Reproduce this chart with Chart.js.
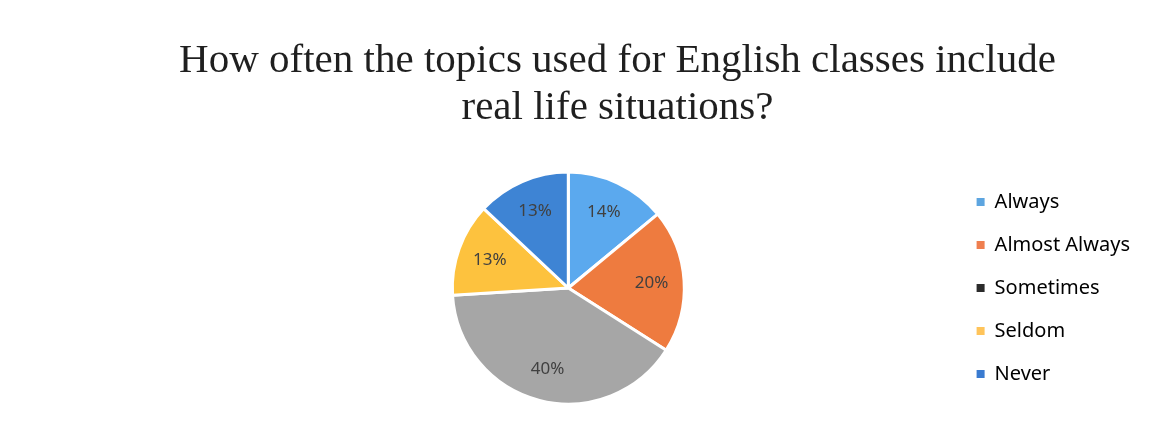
<!DOCTYPE html>
<html lang="en">
<head>
  <meta charset="UTF-8" />
  <title>Real life situations</title>
  <script src="https://cdn.jsdelivr.net/npm/chart.js"></script>
  <style>
    body {
      margin: 0;
      background: #fff;
    }

    .wrap {
      position: relative;
      width: 1149px;
      height: 448px;
    }

    .title {
      position: absolute;
      top: 35px;
      left: 86px;
      width: 1063px;
      text-align: center;
      font-family: 'Liberation Serif', 'Times New Roman', serif;
      font-size: 41px;
      line-height: 47px;
      color: #1f1f1f;
    }

    canvas {
      position: absolute;
      top: 0;
      left: 0;
    }
  </style>
</head>
<body>
  <div class="wrap">
    <canvas id="pie" width="1149" height="448"></canvas>
    <div class="title">How often the topics used for English classes include<br/>real life situations?</div>
  </div>

  <script>
    const answers = ['Always', 'Almost Always', 'Sometimes', 'Seldom', 'Never'];
    const percents = [14, 20, 40, 13, 13];
    const sliceColors = ['#5ba9ee', '#ee7b3f', '#a6a6a6', '#fdc23e', '#3e84d4'];
    // the legend squares in the original don't all match the slices (Sometimes is black)
    const legendColors = ['#5da5e0', '#ef7f4f', '#2b2b2b', '#ffc45a', '#3a7bd0'];

    // draws the "14%" style labels inside each slice
    const sliceLabels = {
      id: 'sliceLabels',
      afterDatasetsDraw(chart) {
        const ctx = chart.ctx;
        const meta = chart.getDatasetMeta(0);
        ctx.save();
        ctx.font = '17px "Noto Sans", sans-serif';
        ctx.fillStyle = '#404040';
        ctx.textAlign = 'center';
        ctx.textBaseline = 'middle';
        meta.data.forEach((arc, i) => {
          const p = arc.getProps(['x', 'y', 'startAngle', 'endAngle', 'outerRadius'], true);
          const mid = (p.startAngle + p.endAngle) / 2;
          const r = p.outerRadius * 0.72;
          ctx.fillText(percents[i] + '%', p.x + Math.cos(mid) * r, p.y + Math.sin(mid) * r);
        });
        ctx.restore();
      }
    };

    new Chart(document.getElementById('pie'), {
      type: 'pie',
      data: {
        labels: answers,
        datasets: [{
          data: percents,
          backgroundColor: sliceColors,
          borderColor: '#ffffff',
          borderWidth: 3,
          radius: 116
        }]
      },
      options: {
        responsive: false,
        animation: false,
        layout: {
          padding: { top: 153, bottom: 25, left: 183, right: 9 }
        },
        plugins: {
          legend: {
            position: 'right',
            labels: {
              boxWidth: 8,
              boxHeight: 8,
              padding: 23,
              color: '#2e2e2e',
              font: { family: '"Noto Sans", sans-serif', size: 20 },
              generateLabels(chart) {
                return answers.map((a, i) => ({
                  text: a,
                  fillStyle: legendColors[i],
                  strokeStyle: legendColors[i],
                  lineWidth: 0,
                  hidden: false,
                  index: i
                }));
              }
            }
          },
          tooltip: { enabled: false }
        }
      },
      plugins: [sliceLabels]
    });
  </script>
</body>
</html>
